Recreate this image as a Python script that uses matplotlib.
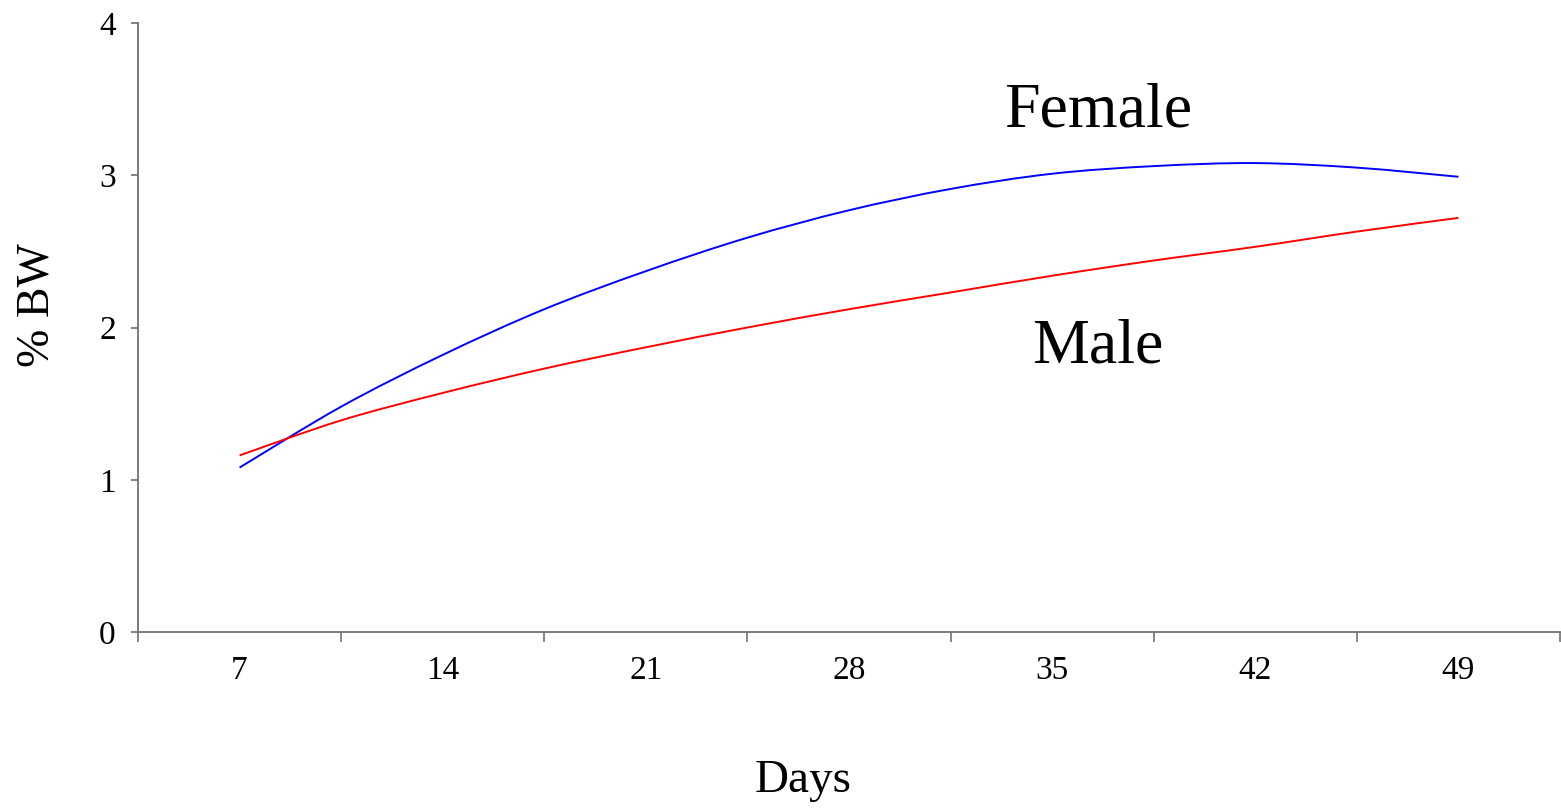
import matplotlib
matplotlib.use("Agg")
import matplotlib.pyplot as plt
from matplotlib.path import Path
from matplotlib.patches import PathPatch

# ---- data ----
days = [7, 10.5, 14, 17.5, 21, 24.5, 28, 31.5, 35, 38.5, 42, 45.5, 49]
female = [1.08, 1.48, 1.82, 2.12, 2.37, 2.59, 2.77, 2.91, 3.01, 3.06, 3.08, 3.05, 2.99]
male = [1.16, 1.39, 1.57, 1.73, 1.87, 2.00, 2.12, 2.23, 2.34, 2.44, 2.53, 2.63, 2.72]
xtick_labels = ["7", "14", "21", "28", "35", "42", "49"]
xtick_pos = [7, 14, 21, 28, 35, 42, 49]
ytick_pos = [0, 1, 2, 3, 4]

serif = ["Liberation Serif", "DejaVu Serif"]
plt.rcParams["font.family"] = serif


def smooth_path(xs, ys):
    """Excel-like smoothed line: Catmull-Rom segments as cubic Beziers."""
    n = len(xs)
    verts = [(xs[0], ys[0])]
    codes = [Path.MOVETO]
    for i in range(n - 1):
        x0, y0 = (xs[i - 1], ys[i - 1]) if i > 0 else (xs[i], ys[i])
        x1, y1 = xs[i], ys[i]
        x2, y2 = xs[i + 1], ys[i + 1]
        x3, y3 = (xs[i + 2], ys[i + 2]) if i + 2 < n else (x2, y2)
        c1 = (x1 + (x2 - x0) / 6.0, y1 + (y2 - y0) / 6.0)
        c2 = (x2 - (x3 - x1) / 6.0, y2 - (y3 - y1) / 6.0)
        verts += [c1, c2, (x2, y2)]
        codes += [Path.CURVE4, Path.CURVE4, Path.CURVE4]
    return Path(verts, codes)


fig = plt.figure(figsize=(15.61, 8.09), dpi=100)
ax = fig.add_axes([138 / 1561, 1 - 632 / 809, (1560 - 138) / 1561, (632 - 23) / 809])

for ys, col in [(female, "#0000ff"), (male, "#ff0000")]:
    ax.add_patch(PathPatch(smooth_path(days, ys), facecolor="none", edgecolor=col,
                           lw=1.4, transform=ax.transData))

ax.set_xlim(3.5, 52.5)
ax.set_ylim(0, 4)

for s in ["top", "right"]:
    ax.spines[s].set_visible(False)
for s in ["left", "bottom"]:
    ax.spines[s].set_color("#707070")
    ax.spines[s].set_linewidth(1.3)

# x: tick marks between categories, labels at category centres
ax.set_xticks([3.5 + 7 * k for k in range(8)])
ax.set_xticklabels([])
ax.set_xticks(xtick_pos, minor=True)
ax.set_xticklabels(xtick_labels, minor=True)
ax.tick_params(axis="x", which="major", direction="out", length=7, width=1.2, color="#707070")
ax.tick_params(axis="x", which="minor", length=0, pad=17, labelsize=24)

ax.set_yticks(ytick_pos)
ax.set_yticklabels([str(v) for v in ytick_pos])
ax.tick_params(axis="y", direction="out", length=5, width=1.2, color="#707070", pad=11, labelsize=24)

fig.text(37 / 1561, 1 - 305 / 809, "% BW", rotation=90, ha="center", va="center", fontsize=33)
fig.text(803 / 1561, 1 - 781 / 809, "Days", ha="center", va="center", fontsize=34)

ax.text(36.57, 3.317, "Female", ha="center", va="baseline", fontsize=46)
ax.text(36.57, 1.773, "Male", ha="center", va="baseline", fontsize=46)

fig.savefig("out.png", dpi=100)
